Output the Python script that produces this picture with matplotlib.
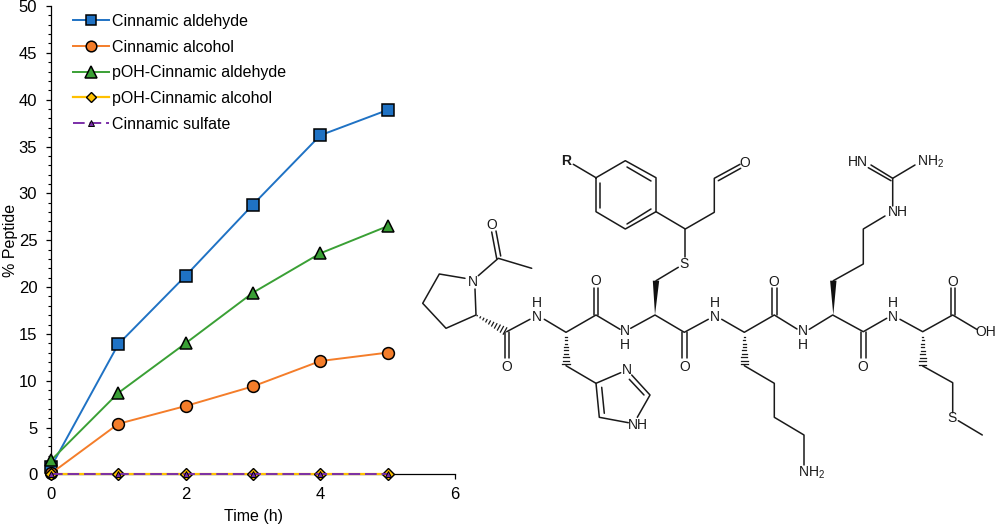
import numpy as np
import matplotlib
matplotlib.use('Agg')
import matplotlib.pyplot as plt

plt.rcParams['font.family'] = ['Liberation Sans', 'DejaVu Sans']
plt.rcParams['mathtext.default'] = 'regular'

# chart data
time_h = [0, 1, 2, 3, 4, 5]
cin_aldehyde = [0.8, 13.9, 21.2, 28.8, 36.2, 38.9]
cin_alcohol = [0.1, 5.4, 7.3, 9.4, 12.1, 13.0]
poh_aldehyde = [1.5, 8.7, 14.0, 19.4, 23.6, 26.5]
poh_alcohol = [0, 0, 0, 0, 0, 0]
cin_sulfate = [0, 0, 0, 0, 0, 0]

W, H = 996, 525
fig = plt.figure(figsize=(W / 100, H / 100), dpi=100)

# main plot, placed by pixel position of the axis lines
x0, x1, y0, y1 = 51, 455, 474.4, 6
ax = fig.add_axes([x0 / W, 1 - y0 / H, (x1 - x0) / W, (y0 - y1) / H])

ax.plot(time_h, cin_aldehyde, '-s', color='#1f72c4', mfc='#1f72c4', mec='black', mew=1.1, ms=8.5, lw=1.4,
        clip_on=False, zorder=3, label='Cinnamic aldehyde')
ax.plot(time_h, cin_alcohol, '-o', color='#f47d2a', mfc='#f47d2a', mec='black', mew=1.1, ms=8.5, lw=1.4,
        clip_on=False, zorder=3.1, label='Cinnamic alcohol')
ax.plot(time_h, poh_aldehyde, '-^', color='#3aa035', mfc='#3aa035', mec='black', mew=1.1, ms=8.8, lw=1.4,
        clip_on=False, zorder=3.2, label='pOH-Cinnamic aldehyde')
ax.plot(time_h, poh_alcohol, '-D', color='#ffc000', mfc='#ffc000', mec='black', mew=1.0, ms=5.8, lw=1.6,
        clip_on=False, zorder=3.3, label='pOH-Cinnamic alcohol')
ax.plot(time_h, cin_sulfate, '--^', color='#7b2fa8', mfc='#7b2fa8', mec='black', mew=0.7, ms=4.6, lw=1.4,
        dashes=(6, 2.5), clip_on=False, zorder=3.4, label='Cinnamic sulfate')

ax.set_xlim(0, 6)
ax.set_ylim(0, 50)
ax.set_xticks([0, 2, 4, 6])
ax.set_yticks(range(0, 51, 5))
ax.set_yticks(range(0, 51), minor=True)
ax.tick_params(axis='y', which='major', labelsize=12, length=3.4, width=0.9, pad=6.5)
ax.tick_params(axis='x', which='major', labelsize=12, length=3.4, width=0.9, pad=5.8)
ax.tick_params(axis='y', which='minor', length=2.2, width=0.8)
for pos in ['top', 'right']:
    ax.spines[pos].set_visible(False)
ax.spines['left'].set_linewidth(0.9)
ax.spines['bottom'].set_linewidth(0.9)
ax.set_xlabel('Time (h)', fontsize=11.5, labelpad=5.2)
ax.set_ylabel('% Peptide', fontsize=11.5)
ax.yaxis.set_label_coords(-0.082, 0.5)

ax.legend(loc='upper left', bbox_to_anchor=(0.0425, 0.9936), frameon=False, fontsize=11.5, markerscale=0.9,
          handlelength=2.23, handletextpad=0.2, labelspacing=0.673, borderpad=0.3, borderaxespad=0)

# structure overlay, in image pixels
st = fig.add_axes([0, 0, 1, 1], facecolor='none')
st.set_xlim(0, W)
st.set_ylim(H, 0)
st.axis('off')

bonds = [
    # R and benzene ring
    [(573.3, 164.3), (596, 177.7), (625.3, 160.7), (656, 177.7), (656, 211.7), (625.3, 229), (596, 211.7), (596, 177.7)],
    [(600, 183), (600, 208)], [(627, 167), (651, 181)], [(627, 224), (651, 209)],
    # linker to the aldehyde and S
    [(656, 211.7), (685.3, 229), (714.3, 212.3), (714.3, 178.3), (740, 164.3)],
    [(718.3, 180.7), (740.7, 168.3)],
    [(685.3, 229), (685.3, 257.3)],
    [(678.3, 267.3), (656, 280.7)],
    # proline and acetyl
    [(465, 278.3), (439.3, 274), (422.7, 303.3), (446, 328.3), (476, 315), (475, 289)],
    [(478.3, 275.7), (498.3, 258.3), (531.7, 268.3)],
    [(491.7, 232), (496.7, 258.5)], [(496, 231), (500.7, 256)],
    # backbone
    [(530, 319.3), (506.7, 331.7)],
    [(544.3, 319.3), (566, 332.3), (596, 315), (620, 329.3)],
    [(630.7, 328.3), (655, 315), (684.3, 332.3), (708.3, 319.3)],
    [(721.7, 319.3), (744.3, 332.3), (774.3, 315), (797, 329)],
    [(809.3, 329.3), (832.7, 315), (863.3, 331.7), (886.7, 318.3)],
    [(900, 319.3), (922.7, 331.7), (952.7, 315), (976.7, 329.3)],
    # carbonyls
    [(504.5, 332), (504.5, 358)], [(509, 332), (509, 358)],
    [(593.7, 288), (593.7, 315)], [(598, 288), (598, 315)],
    [(682.3, 332), (682.3, 358)], [(686.7, 332), (686.7, 358)],
    [(772, 288), (772, 315)], [(776.5, 288), (776.5, 315)],
    [(861, 332), (861, 358)], [(865.5, 332), (865.5, 358)],
    [(950.5, 288), (950.5, 315)], [(955, 288), (955, 315)],
    # arginine side chain
    [(833.3, 280.7), (863.3, 264), (863.3, 229), (885, 216)],
    [(892.7, 206), (892.7, 178.3), (915, 165)],
    [(892.7, 178.3), (871, 165)], [(868.3, 167.7), (891, 180.7)],
    # histidine side chain
    [(566, 365.7), (596, 383.3), (620.7, 372.7)],
    [(596, 383.3), (599.3, 417.3), (628.3, 422.7)],
    [(601.7, 387.3), (604.3, 413.3)],
    [(631.7, 375), (650, 395), (637.3, 417.3)], [(629.3, 379.3), (644, 395)],
    # lysine side chain
    [(744.3, 365.7), (774.3, 383.3), (774.3, 417.3), (804, 435), (804, 465)],
    # methionine side chain
    [(922.7, 366), (952.7, 382.7), (952.7, 412.7)],
    [(958.3, 420.7), (982.3, 435)],
]
for b in bonds:
    pts = np.array(b)
    st.plot(pts[:, 0], pts[:, 1], color='#1a1a1a', lw=1.1, solid_capstyle='round', solid_joinstyle='round')

# solid wedges: tip, then wide end
wedges = [((655, 315), (656, 280.7)), ((833.3, 315), (833.3, 280.7))]
for tip, end in wedges:
    st.fill([tip[0], end[0] - 3.2, end[0] + 3.2], [tip[1], end[1], end[1]], color='#111111', lw=0)

# hashed wedges: narrow end, then wide end
hashes = [((476, 315), (505, 331)), ((566, 332.3), (566, 364)), ((744.3, 332.3), (744.3, 364)),
          ((922.7, 331.7), (922.7, 365))]
for a, b in hashes:
    a, b = np.array(a), np.array(b)
    d = (b - a) / np.hypot(*(b - a))
    n = np.array([-d[1], d[0]])
    for f in np.linspace(0.04, 1, 10):
        c = a + (b - a) * f
        hw = 3.6 * f
        st.plot([c[0] - n[0] * hw, c[0] + n[0] * hw], [c[1] - n[1] * hw, c[1] + n[1] * hw], color='#1a1a1a', lw=0.9)

atoms = [
    ('O', 491.7, 225), ('N', 472.7, 281.7), ('O', 506.7, 366.7),
    ('H\nN', 536.7, 310), ('O', 595.7, 281), ('N\nH', 625, 338),
    ('O', 685, 366.7), ('H\nN', 715, 310), ('O', 774, 281.7),
    ('N\nH', 803.3, 338), ('O', 862.7, 366.7), ('H\nN', 892.7, 310),
    ('O', 952.3, 281.7), ('OH', 986, 332.3), ('S', 684.3, 264), ('O', 745, 162.7),
    ('HN', 858.3, 161.7), ('NH$_2$', 930.5, 162), ('NH', 897.7, 212.3),
    ('N', 626.7, 370), ('NH', 637.7, 425), ('NH$_2$', 812, 473), ('S', 952, 418.3),
]
for s, x, y in atoms:
    st.text(x, y, s, fontsize=10, ha='center', va='center', color='#1a1a1a', linespacing=0.95)
st.text(565.7, 161, 'R', fontsize=10, fontweight='bold', ha='center', va='center', color='#1a1a1a')

fig.savefig('out.png', dpi=100)
